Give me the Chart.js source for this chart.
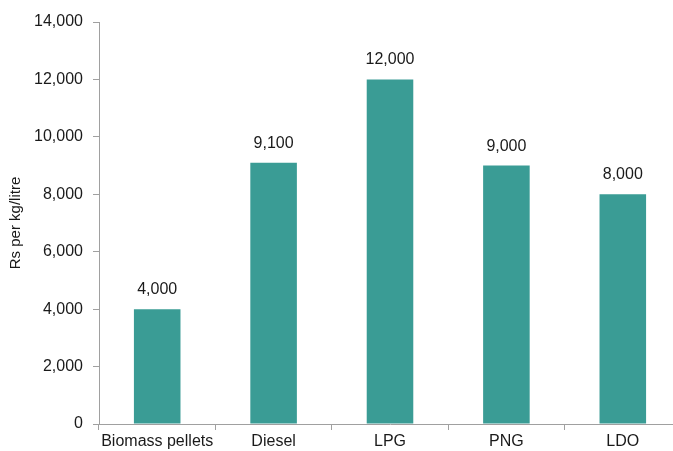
<!DOCTYPE html>
<html>
<head>
<meta charset="utf-8">
<script src="https://cdn.jsdelivr.net/npm/chart.js@4"></script>
<style>
  html, body { margin: 0; padding: 0; background: #fff; overflow: hidden; }
  #wrap { width: 681px; height: 451px; }
</style>
</head>
<body>
<div id="wrap"><canvas id="costChart"></canvas></div>
<script>
const fuels = ['Biomass pellets', 'Diesel', 'LPG', 'PNG', 'LDO'];
const costs = [4000, 9100, 12000, 9000, 8000];
const yTicks = [0, 2000, 4000, 6000, 8000, 10000, 12000, 14000];

const fmt = v => v.toLocaleString('en-US');

// draw the value above each bar
const barLabels = {
  id: 'barLabels',
  afterDatasetsDraw(chart) {
    const c = chart.ctx;
    const meta = chart.getDatasetMeta(0);
    c.save();
    c.font = '16px "Liberation Sans", Arial, sans-serif';
    c.fillStyle = '#1a1a1a';
    c.textAlign = 'center';
    c.textBaseline = 'alphabetic';
    meta.data.forEach((bar, i) => {
      c.fillText(fmt(costs[i]), bar.x, bar.y - 15);
    });
    c.restore();
  }
};

const ctx = document.getElementById('costChart');

const chart = new Chart(ctx, {
  type: 'bar',
  data: {
    labels: fuels,
    datasets: [{
      label: 'Cost',
      data: costs,
      backgroundColor: '#3a9c95',
      barPercentage: 0.4,
      categoryPercentage: 1
    }]
  },
  options: {
    responsive: true,
    maintainAspectRatio: false,
    animation: false,
    layout: { padding: { top: 22, right: 0, left: 0, bottom: 0 } },
    plugins: {
      legend: { display: false },
      tooltip: { enabled: false }
    },
    scales: {
      x: {
        grid: { drawOnChartArea: false, color: '#a0a0a0', tickLength: 6 },
        border: { color: '#a0a0a0' },
        ticks: {
          color: '#1a1a1a',
          font: { family: '"Liberation Sans", Arial, sans-serif', size: 16 },
          padding: 2,
          maxRotation: 0
        },
        afterFit: s => { s.height = 27; }
      },
      y: {
        min: 0,
        max: 14000,
        afterBuildTicks: s => { s.ticks = yTicks.map(v => ({ value: v })); },
        grid: { drawOnChartArea: false, color: '#a0a0a0', tickLength: 6 },
        border: { color: '#a0a0a0' },
        ticks: {
          color: '#1a1a1a',
          font: { family: '"Liberation Sans", Arial, sans-serif', size: 16 },
          padding: 10,
          callback: v => fmt(v)
        },
        title: {
          display: true,
          text: 'Rs per kg/litre',
          color: '#1a1a1a',
          font: { family: '"Liberation Sans", Arial, sans-serif', size: 15 },
          padding: { top: 7, bottom: 4 }
        },
        afterFit: s => { s.width = 99; }
      }
    }
  },
  plugins: [barLabels]
});
</script>
</body>
</html>
